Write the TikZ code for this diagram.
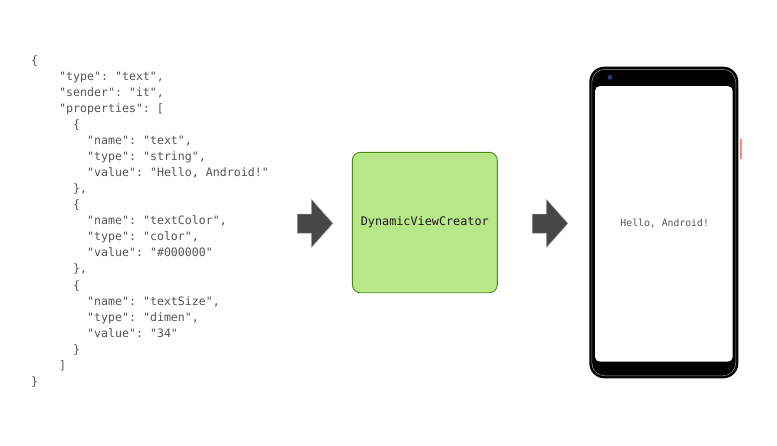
\documentclass[tikz,border=0pt]{standalone}
\usepackage{fontspec}
\setmonofont{DejaVu Sans Mono}
\definecolor{jsongray}{HTML}{555555}
\definecolor{boxfill}{HTML}{B9E889}
\definecolor{boxline}{HTML}{4E8A1A}
\definecolor{arrowfill}{HTML}{474747}
\definecolor{arrowline}{HTML}{8A8A8A}
\definecolor{camblue}{HTML}{2B3A6E}
\definecolor{btnorange}{HTML}{FF8A70}
\tikzset{
  jsonline/.style={anchor=base west, inner sep=0pt, font=\ttfamily\fontsize{11.6}{14}\selectfont, text=jsongray},
  vcbox/.style={draw=boxline, fill=boxfill, line width=0.9pt, rounded corners=8pt, minimum width=145pt, minimum height=140.4pt, inner sep=0pt, font=\ttfamily\fontsize{11.8}{14}\selectfont, text=black!90},
  blockarrow/.style={fill=arrowfill, draw=arrowline, line width=0.5pt},
  phonebody/.style={fill=black, draw=none, rounded corners=15pt, minimum width=149pt, minimum height=311.6pt, inner sep=0pt},
  phonescreen/.style={fill=white, draw=none, rounded corners=5pt, minimum width=137.7pt, minimum height=275.7pt, inner sep=0pt},
  hellotext/.style={inner sep=0pt, font=\ttfamily\fontsize{9.8}{12}\selectfont, text=jsongray}
}
\newcommand\jl[3]{\node[jsonline] (l#1) at ({31+#2*7.0},{64.3+#1*16.05}) {#3};}
\begin{document}
\begin{tikzpicture}[x=1pt,y=-1pt]
\useasboundingbox (0,0) rectangle (777,445);
% JSON
\jl{0}{0}{\{}
\jl{1}{4}{"type": "text",}
\jl{2}{4}{"sender": "it",}
\jl{3}{4}{"properties": [}
\jl{4}{6}{\{}
\jl{5}{8}{"name": "text",}
\jl{6}{8}{"type": "string",}
\jl{7}{8}{"value": "Hello, Android!"}
\jl{8}{6}{\},}
\jl{9}{6}{\{}
\jl{10}{8}{"name": "textColor",}
\jl{11}{8}{"type": "color",}
\jl{12}{8}{"value": "\#000000"}
\jl{13}{6}{\},}
\jl{14}{6}{\{}
\jl{15}{8}{"name": "textSize",}
\jl{16}{8}{"type": "dimen",}
\jl{17}{8}{"value": "34"}
\jl{18}{6}{\}}
\jl{19}{4}{]}
\jl{20}{0}{\}}
% arrow 1
\draw[blockarrow] (297.3,214) -- (311.7,214) -- (311.7,199.8) -- (332.7,223.4) -- (311.7,247) -- (311.7,233) -- (297.3,233) -- cycle;
% creator box
\node[vcbox] (creator) at (424.8,222.5) {DynamicViewCreator};
% arrow 2
\draw[blockarrow] (532.3,214) -- (546.7,214) -- (546.7,199.8) -- (567.7,223.4) -- (546.7,247) -- (546.7,233) -- (532.3,233) -- cycle;
% phone
\fill[btnorange] (739.5,139.3) rectangle (742.3,158.7);
\node[phonebody] (phone) at (663.8,222.5) {};
\draw[gray!75, line width=0.5pt, rounded corners=13pt] (591.8,69.3) rectangle (735.8,375.8);
\node[phonescreen] (screen) at (663.85,223.85) {};
\fill[camblue] (610,77.3) circle (2.5pt);
\node[hellotext] (hello) at (664.7,223) {Hello, Android!};
\end{tikzpicture}
\end{document}
